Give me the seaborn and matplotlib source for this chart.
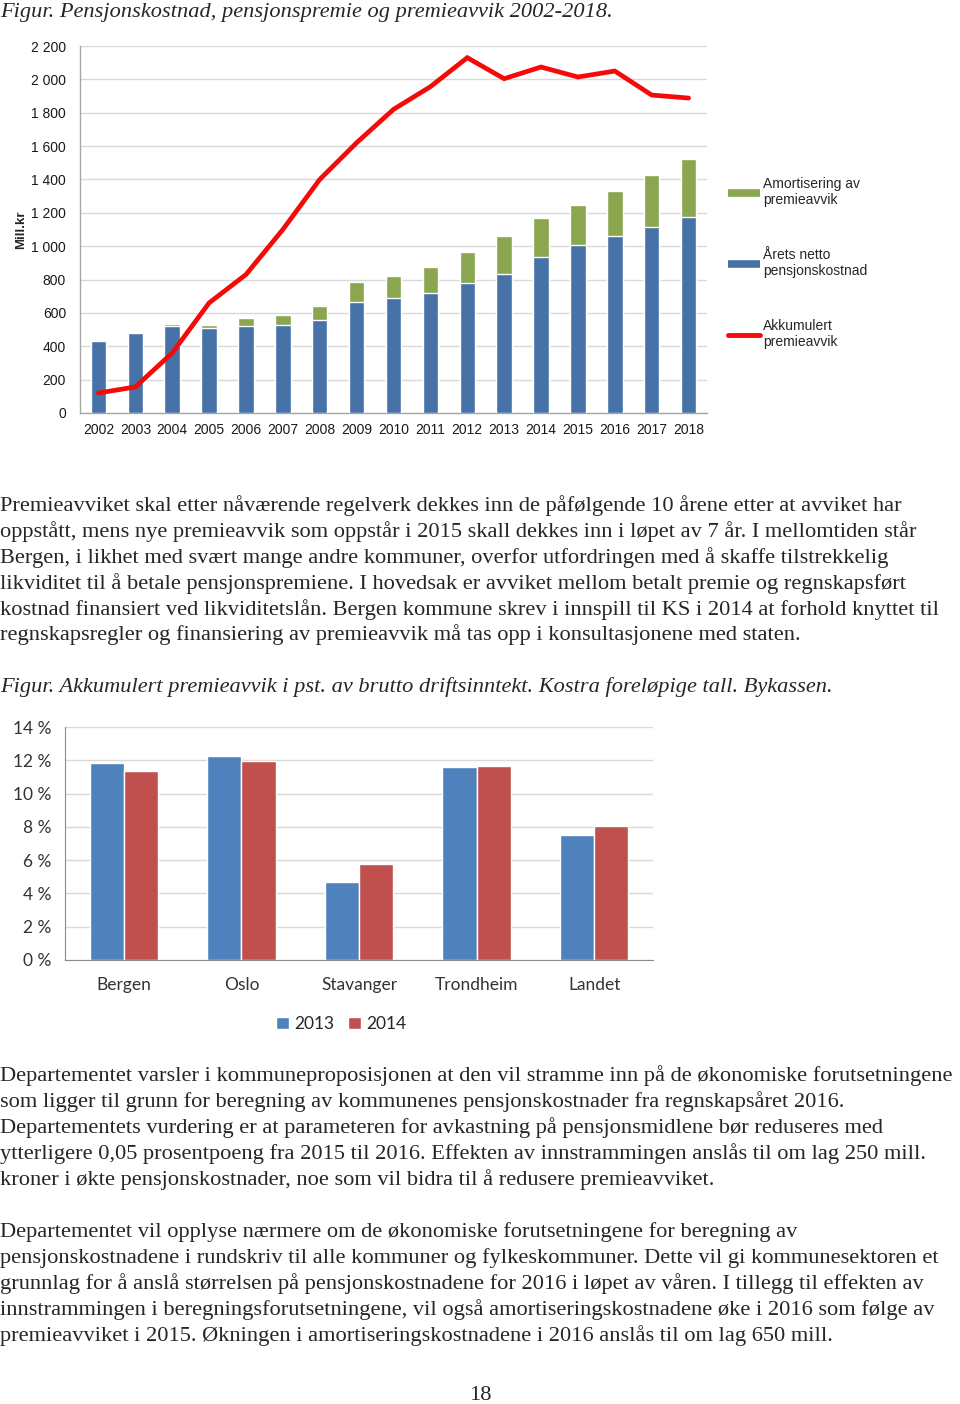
import numpy as np
import pandas as pd
import matplotlib
matplotlib.use("Agg")
import matplotlib.pyplot as plt
import seaborn as sns
from matplotlib.lines import Line2D
from matplotlib.ticker import FuncFormatter, MultipleLocator, FixedLocator

# ---------------- data ----------------
years = ["2002", "2003", "2004", "2005", "2006", "2007", "2008", "2009", "2010",
         "2011", "2012", "2013", "2014", "2015", "2016", "2017", "2018"]
netto_kostnad = [434, 480, 520, 508, 520, 526, 560, 666, 688, 720, 780, 836, 936, 1006, 1060, 1114, 1176]
amortisering = [0, 8, 16, 22, 50, 64, 84, 118, 136, 156, 184, 224, 234, 240, 268, 312, 344]
akkumulert = [120, 156, 360, 660, 830, 1100, 1400, 1620, 1820, 1956, 2130, 2004, 2074, 2014, 2050, 1906, 1888]

legend1_labels = ["Amortisering av\npremieavvik", "Årets netto\npensjonskostnad", "Akkumulert\npremieavvik"]

byer = ["Bergen", "Oslo", "Stavanger", "Trondheim", "Landet"]
pst_2013 = [11.83, 12.23, 4.70, 11.59, 7.51]
pst_2014 = [11.37, 11.93, 5.76, 11.65, 8.05]
aar2 = ["2013", "2014"]

title1 = "Figur. Pensjonskostnad, pensjonspremie og premieavvik 2002-2018."
para1 = [
    "Premieavviket skal etter nåværende regelverk dekkes inn de påfølgende 10 årene etter at avviket har",
    "oppstått, mens nye premieavvik som oppstår i 2015 skall dekkes inn i løpet av 7 år. I mellomtiden står",
    "Bergen, i likhet med svært mange andre kommuner, overfor utfordringen med å skaffe tilstrekkelig",
    "likviditet til å betale pensjonspremiene. I hovedsak er avviket mellom betalt premie og regnskapsført",
    "kostnad finansiert ved likviditetslån. Bergen kommune skrev i innspill til KS i 2014 at forhold knyttet til",
    "regnskapsregler og finansiering av premieavvik må tas opp i konsultasjonene med staten.",
]
title2 = "Figur. Akkumulert premieavvik i pst. av brutto driftsinntekt. Kostra foreløpige tall. Bykassen."
para2 = [
    "Departementet varsler i kommuneproposisjonen at den vil stramme inn på de økonomiske forutsetningene",
    "som ligger til grunn for beregning av kommunenes pensjonskostnader fra regnskapsåret 2016.",
    "Departementets vurdering er at parameteren for avkastning på pensjonsmidlene bør reduseres med",
    "ytterligere 0,05 prosentpoeng fra 2015 til 2016. Effekten av innstrammingen anslås til om lag 250 mill.",
    "kroner i økte pensjonskostnader, noe som vil bidra til å redusere premieavviket.",
]
para3 = [
    "Departementet vil opplyse nærmere om de økonomiske forutsetningene for beregning av",
    "pensjonskostnadene i rundskriv til alle kommuner og fylkeskommuner. Dette vil gi kommunesektoren et",
    "grunnlag for å anslå størrelsen på pensjonskostnadene for 2016 i løpet av våren. I tillegg til effekten av",
    "innstrammingen i beregningsforutsetningene, vil også amortiseringskostnadene øke i 2016 som følge av",
    "premieavviket i 2015. Økningen i amortiseringskostnadene i 2016 anslås til om lag 650 mill.",
]
page_no = "18"

# ---------------- style ----------------
sns.set_style("white")
plt.rcParams["font.family"] = ["Liberation Sans", "DejaVu Sans"]

W, H = 960, 1404
fig = plt.figure(figsize=(W / 100, H / 100), dpi=100)

def fx(px):
    return px / W

def fy(py):
    return 1 - py / H

SERIF = ["Liberation Serif", "DejaVu Serif"]
BODY = 16.15

# ---------------- text ----------------
fig.text(fx(0), fy(13), title1, family=SERIF, style="italic", fontsize=BODY, va="center", ha="left")
for i, line in enumerate(para1):
    fig.text(fx(0), fy(506 + i * 25.8), line, family=SERIF, fontsize=BODY, va="center", ha="left")
fig.text(fx(0), fy(687), title2, family=SERIF, style="italic", fontsize=BODY, va="center", ha="left")
for i, line in enumerate(para2):
    fig.text(fx(0), fy(1076 + i * 25.9), line, family=SERIF, fontsize=BODY, va="center", ha="left")
for i, line in enumerate(para3):
    fig.text(fx(0), fy(1232 + i * 25.9), line, family=SERIF, fontsize=BODY, va="center", ha="left")
fig.text(fx(481), fy(1395), page_no, family=SERIF, fontsize=BODY, va="center", ha="center")

# ---------------- chart 1 ----------------
BLUE1 = "#4672A8"
GREEN1 = "#8AA64F"
RED1 = "#F50A0A"

ax1 = fig.add_axes([fx(80), fy(413), fx(707) - fx(80), fy(46) - fy(413)])
df1 = pd.DataFrame({"year": years, "netto": netto_kostnad, "amort": amortisering})
df1["total"] = df1["netto"] + df1["amort"]

sns.barplot(data=df1, x="year", y="total", color=GREEN1, width=0.42, saturation=1, ax=ax1, zorder=2)
sns.barplot(data=df1, x="year", y="netto", color=BLUE1, width=0.42, saturation=1, ax=ax1, zorder=3)
sns.lineplot(x=np.arange(len(years)), y=akkumulert, color=RED1, linewidth=3.4, ax=ax1, zorder=4,
             solid_joinstyle="miter")

ax1.set_xlim(-0.5, len(years) - 0.5)
ax1.set_ylim(0, 2200)
ax1.yaxis.set_major_locator(MultipleLocator(200))
ax1.yaxis.set_major_formatter(FuncFormatter(lambda v, p: f"{int(v):,}".replace(",", " ")))
ax1.grid(axis="y", color="#D9D9D9", linewidth=1, zorder=0)
ax1.set_axisbelow(True)
for s in ["top", "right"]:
    ax1.spines[s].set_visible(False)
for s in ["left", "bottom"]:
    ax1.spines[s].set_color("#A6A6A6")
    ax1.spines[s].set_linewidth(1)
ax1.set_xlabel("")
ax1.set_ylabel("Mill.kr", fontsize=9.5, fontweight="bold")
ax1.yaxis.set_label_coords((27 - 80) / 627, 0.5)
ax1.tick_params(axis="y", which="major", length=4, color="#A6A6A6", labelsize=10, labelcolor="#1a1a1a", pad=6)
ax1.tick_params(axis="x", which="major", length=0, labelsize=10, labelcolor="#1a1a1a", pad=7)
ax1.xaxis.set_minor_locator(FixedLocator(np.arange(-0.5, len(years), 1.0)))
ax1.tick_params(axis="x", which="minor", length=5, color="#A6A6A6")

handles1 = [Line2D([], [], color=GREEN1, linewidth=5.5, solid_capstyle="butt"),
            Line2D([], [], color=BLUE1, linewidth=5.5, solid_capstyle="butt"),
            Line2D([], [], color=RED1, linewidth=3.5)]
ax1.legend(handles1, legend1_labels, loc="upper left", bbox_to_anchor=((728 - 80) / 627, (413 - 177) / 367),
           frameon=False, fontsize=10, handlelength=2.3, handletextpad=0.2, labelspacing=2.93,
           borderaxespad=0, borderpad=0)

# ---------------- chart 2 ----------------
BLUE2 = "#4F81BD"
RED2 = "#C0504D"
ax2 = fig.add_axes([fx(65), fy(960), fx(653) - fx(65), fy(727) - fy(960)])
df2 = pd.DataFrame({"by": byer * 2, "aar": [aar2[0]] * len(byer) + [aar2[1]] * len(byer),
                    "pst": pst_2013 + pst_2014})
sns.barplot(data=df2, x="by", y="pst", hue="aar", palette=[BLUE2, RED2], width=0.58, saturation=1,
            ax=ax2, zorder=2)
ax2.set_xlim(-0.5, len(byer) - 0.5)
ax2.set_ylim(0, 14)
ax2.yaxis.set_major_locator(MultipleLocator(2))
ax2.yaxis.set_major_formatter(FuncFormatter(lambda v, p: f"{int(v)} %"))
ax2.grid(axis="y", color="#D9D9D9", linewidth=1, zorder=0)
ax2.set_axisbelow(True)
for s in ["top", "right"]:
    ax2.spines[s].set_visible(False)
for s in ["left", "bottom"]:
    ax2.spines[s].set_color("#8C8C8C")
ax2.set_xlabel("")
ax2.set_ylabel("")
FONT2 = ["Lato", "DejaVu Sans"]
ax2.tick_params(axis="y", which="major", length=5, color="#8C8C8C", labelsize=12.5, labelcolor="#333333", pad=5)
ax2.tick_params(axis="x", which="major", length=0, labelsize=12.5, labelcolor="#333333", pad=12)
for t in ax2.get_xticklabels() + ax2.get_yticklabels():
    t.set_family(FONT2)
ax2.xaxis.set_minor_locator(FixedLocator(np.arange(-0.5, len(byer), 1.0)))
ax2.tick_params(axis="x", which="minor", length=5, color="#8C8C8C")

h2, l2 = ax2.get_legend_handles_labels()
ax2.legend(h2, l2, loc="center", bbox_to_anchor=((341 - 65) / 588, (960 - 1024) / 233), ncol=2,
           frameon=False, prop={"family": FONT2, "size": 12.5}, handlelength=0.75, handleheight=0.75,
           handletextpad=0.3, columnspacing=0.8)

fig.savefig("out.png", dpi=100)
